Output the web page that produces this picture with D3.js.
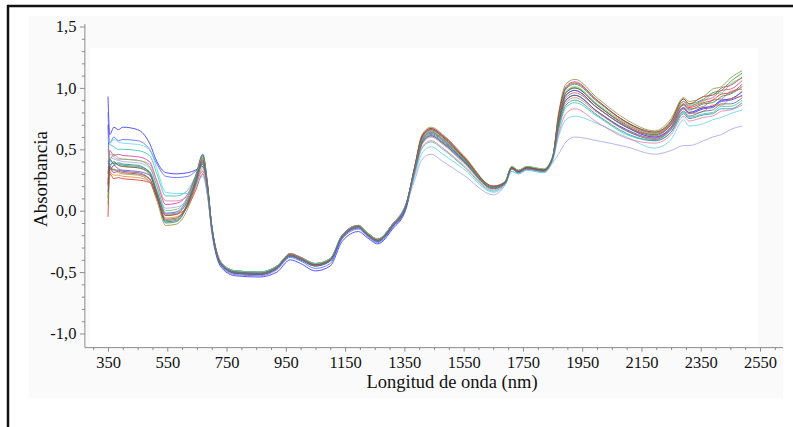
<!DOCTYPE html>
<html>
<head>
<meta charset="utf-8">
<script src="https://cdn.jsdelivr.net/npm/d3@7"></script>
<style>
  body { margin: 0; background: #fff; }
  svg { display: block; }
  text { font-family: "Liberation Serif", "Times New Roman", serif; fill: #111; }
</style>
</head>
<body>
<svg id="chart" width="793" height="427"></svg>
<script>
//============================================================
// Data (absorbance spectra, 350-2500 nm)
//============================================================

var wavelengths = [350, 356, 370, 385, 400, 450, 490, 515, 545, 580, 620, 645, 670, 685, 700,
                   715, 735, 780, 860, 920, 965, 1000, 1050, 1100, 1140, 1195, 1225, 1260, 1310, 1355,
                   1385, 1410, 1440, 1480, 1550, 1650,
                   1690, 1712, 1735, 1763, 1820, 1850,
                   1870, 1895, 1925, 2000, 2100, 2195,
                   2250, 2292, 2310, 2360, 2390, 2420, 2450, 2490];

var xTickLabels = [350, 550, 750, 950, 1150, 1350, 1550, 1750, 1950, 2150, 2350, 2550];
var yTickLabels = [-1.0, -0.5, 0.0, 0.5, 1.0, 1.5];

var sampleColors = ['#2b2bff', '#4f63ff', '#e32626', '#1e9e3c', '#2fbfae', '#d1349b',
                    '#7333c6', '#8e8e38', '#1e7e5e', '#e3853b', '#a3a3f3', '#5ed3eb',
                    '#e875a5', '#a9663e', '#55637d', '#5fbf5f', '#b63939', '#2a8fa9'];

var spectra = [
  [0.93, 0.62, 0.68, 0.66, 0.68, 0.66, 0.55, 0.40, 0.31, 0.30, 0.31, 0.33, 0.36, 0.17, -0.17,
   -0.36, -0.47, -0.53, -0.54, -0.50, -0.40, -0.43, -0.49, -0.45, -0.25, -0.17, -0.22, -0.27, -0.15, 0.01,
   0.32, 0.55, 0.61, 0.55, 0.40, 0.18,
   0.22, 0.34, 0.31, 0.34, 0.32, 0.42,
   0.70, 0.90, 0.94, 0.81, 0.66, 0.59,
   0.67, 0.83, 0.79, 0.83, 0.84, 0.89, 0.90, 0.94],
  [0.80, 0.55, 0.60, 0.57, 0.58, 0.57, 0.50, 0.38, 0.28, 0.27, 0.28, 0.32, 0.38, 0.19, -0.15,
   -0.35, -0.46, -0.52, -0.53, -0.48, -0.38, -0.41, -0.47, -0.43, -0.23, -0.15, -0.21, -0.26, -0.14, 0.02,
   0.34, 0.58, 0.64, 0.58, 0.42, 0.19,
   0.23, 0.35, 0.32, 0.35, 0.33, 0.43,
   0.72, 0.94, 0.98, 0.84, 0.68, 0.60,
   0.68, 0.84, 0.80, 0.84, 0.85, 0.90, 0.91, 0.97],
  [-0.05, 0.30, 0.26, 0.27, 0.26, 0.25, 0.23, 0.10, -0.04, -0.03, 0.04, 0.16, 0.30, 0.14, -0.14,
   -0.32, -0.43, -0.49, -0.50, -0.45, -0.35, -0.38, -0.43, -0.39, -0.20, -0.12, -0.18, -0.23, -0.11, 0.05,
   0.35, 0.60, 0.66, 0.60, 0.43, 0.19,
   0.23, 0.35, 0.32, 0.35, 0.33, 0.43,
   0.74, 0.96, 1.00, 0.86, 0.70, 0.62,
   0.71, 0.87, 0.84, 0.88, 0.90, 0.95, 0.96, 1.03],
  [0.10, 0.35, 0.40, 0.37, 0.36, 0.35, 0.30, 0.13, -0.08, -0.07, 0.07, 0.24, 0.44, 0.22, -0.12,
   -0.33, -0.44, -0.50, -0.51, -0.46, -0.36, -0.39, -0.44, -0.40, -0.21, -0.13, -0.19, -0.24, -0.12, 0.04,
   0.34, 0.58, 0.64, 0.58, 0.42, 0.19,
   0.23, 0.35, 0.32, 0.35, 0.33, 0.43,
   0.76, 0.99, 1.03, 0.89, 0.72, 0.64,
   0.73, 0.91, 0.87, 0.91, 0.96, 0.98, 1.05, 1.12],
  [0.55, 0.54, 0.52, 0.50, 0.50, 0.49, 0.45, 0.30, 0.12, 0.12, 0.17, 0.28, 0.40, 0.20, -0.12,
   -0.32, -0.43, -0.49, -0.50, -0.45, -0.35, -0.38, -0.43, -0.39, -0.20, -0.12, -0.18, -0.23, -0.11, 0.05,
   0.30, 0.51, 0.56, 0.50, 0.36, 0.16,
   0.22, 0.34, 0.31, 0.34, 0.32, 0.42,
   0.65, 0.84, 0.88, 0.77, 0.62, 0.57,
   0.64, 0.80, 0.76, 0.79, 0.80, 0.85, 0.85, 0.90],
  [0.20, 0.49, 0.45, 0.46, 0.45, 0.44, 0.40, 0.24, 0.05, 0.06, 0.14, 0.27, 0.42, 0.21, -0.13,
   -0.33, -0.44, -0.50, -0.51, -0.46, -0.36, -0.39, -0.44, -0.40, -0.21, -0.13, -0.19, -0.24, -0.12, 0.04,
   0.36, 0.61, 0.67, 0.61, 0.44, 0.20,
   0.23, 0.35, 0.32, 0.35, 0.33, 0.43,
   0.77, 1.01, 1.05, 0.90, 0.72, 0.63,
   0.72, 0.89, 0.85, 0.90, 0.92, 0.98, 0.99, 1.06],
  [0.70, 0.33, 0.37, 0.34, 0.33, 0.32, 0.29, 0.15, -0.02, -0.01, 0.11, 0.28, 0.46, 0.24, -0.13,
   -0.34, -0.45, -0.51, -0.52, -0.47, -0.37, -0.40, -0.45, -0.41, -0.22, -0.14, -0.20, -0.25, -0.13, 0.03,
   0.33, 0.57, 0.63, 0.57, 0.41, 0.19,
   0.23, 0.35, 0.32, 0.35, 0.33, 0.43,
   0.72, 0.94, 0.98, 0.84, 0.68, 0.60,
   0.68, 0.84, 0.80, 0.84, 0.85, 0.90, 0.91, 0.97],
  [0.05, 0.30, 0.34, 0.31, 0.30, 0.29, 0.24, 0.08, -0.12, -0.11, 0.02, 0.19, 0.38, 0.19, -0.13,
   -0.33, -0.44, -0.50, -0.51, -0.46, -0.36, -0.39, -0.44, -0.40, -0.21, -0.13, -0.19, -0.24, -0.12, 0.04,
   0.36, 0.62, 0.68, 0.62, 0.45, 0.20,
   0.24, 0.36, 0.33, 0.36, 0.34, 0.44,
   0.79, 1.03, 1.07, 0.92, 0.74, 0.65,
   0.75, 0.92, 0.89, 0.93, 0.99, 1.01, 1.08, 1.14],
  [0.30, 0.42, 0.38, 0.39, 0.38, 0.37, 0.31, 0.13, -0.10, -0.09, 0.06, 0.25, 0.45, 0.23, -0.12,
   -0.33, -0.44, -0.50, -0.51, -0.46, -0.36, -0.39, -0.44, -0.40, -0.21, -0.13, -0.19, -0.24, -0.12, 0.04,
   0.35, 0.60, 0.66, 0.60, 0.43, 0.19,
   0.23, 0.35, 0.32, 0.35, 0.33, 0.43,
   0.74, 0.96, 1.00, 0.86, 0.69, 0.61,
   0.70, 0.86, 0.82, 0.87, 0.88, 0.93, 0.95, 1.01],
  [0.25, 0.31, 0.29, 0.29, 0.28, 0.27, 0.24, 0.10, -0.06, -0.05, 0.04, 0.19, 0.35, 0.17, -0.13,
   -0.32, -0.43, -0.49, -0.50, -0.45, -0.35, -0.38, -0.43, -0.39, -0.20, -0.12, -0.18, -0.23, -0.11, 0.05,
   0.32, 0.54, 0.60, 0.54, 0.39, 0.18,
   0.22, 0.34, 0.31, 0.34, 0.32, 0.42,
   0.68, 0.88, 0.92, 0.80, 0.65, 0.59,
   0.67, 0.83, 0.79, 0.81, 0.86, 0.86, 0.91, 0.93],
  [0.45, 0.44, 0.42, 0.41, 0.40, 0.39, 0.35, 0.20, 0.02, 0.03, 0.08, 0.20, 0.33, 0.16, -0.13,
   -0.32, -0.43, -0.49, -0.50, -0.45, -0.35, -0.38, -0.43, -0.39, -0.20, -0.12, -0.18, -0.23, -0.11, 0.05,
   0.25, 0.42, 0.46, 0.40, 0.29, 0.13,
   0.21, 0.32, 0.30, 0.33, 0.31, 0.39,
   0.46, 0.56, 0.60, 0.57, 0.52, 0.46,
   0.49, 0.53, 0.53, 0.57, 0.60, 0.62, 0.66, 0.69],
  [0.60, 0.55, 0.58, 0.56, 0.55, 0.54, 0.50, 0.34, 0.15, 0.14, 0.14, 0.20, 0.28, 0.13, -0.14,
   -0.32, -0.43, -0.49, -0.50, -0.45, -0.35, -0.38, -0.43, -0.39, -0.20, -0.12, -0.18, -0.23, -0.11, 0.05,
   0.28, 0.47, 0.52, 0.46, 0.34, 0.15,
   0.21, 0.32, 0.30, 0.33, 0.31, 0.40,
   0.60, 0.74, 0.77, 0.71, 0.60, 0.51,
   0.58, 0.74, 0.69, 0.71, 0.74, 0.76, 0.79, 0.82],
  [0.40, 0.46, 0.44, 0.42, 0.42, 0.41, 0.38, 0.24, 0.08, 0.08, 0.12, 0.21, 0.32, 0.15, -0.15,
   -0.33, -0.44, -0.50, -0.51, -0.46, -0.36, -0.39, -0.44, -0.40, -0.21, -0.13, -0.19, -0.24, -0.12, 0.04,
   0.31, 0.52, 0.57, 0.51, 0.37, 0.17,
   0.22, 0.34, 0.31, 0.34, 0.32, 0.42,
   0.62, 0.79, 0.83, 0.72, 0.59, 0.55,
   0.62, 0.77, 0.73, 0.76, 0.77, 0.81, 0.82, 0.86],
  [0.35, 0.37, 0.39, 0.37, 0.36, 0.35, 0.31, 0.15, -0.04, -0.03, 0.09, 0.25, 0.43, 0.22, -0.12,
   -0.32, -0.44, -0.51, -0.52, -0.47, -0.35, -0.38, -0.44, -0.40, -0.20, -0.12, -0.19, -0.24, -0.11, 0.05,
   0.34, 0.59, 0.65, 0.59, 0.43, 0.19,
   0.23, 0.35, 0.32, 0.35, 0.33, 0.43,
   0.71, 0.92, 0.96, 0.84, 0.68, 0.62,
   0.70, 0.87, 0.83, 0.85, 0.90, 0.91, 0.97, 0.99],
  [0.15, 0.36, 0.33, 0.33, 0.32, 0.31, 0.26, 0.11, -0.09, -0.08, 0.05, 0.21, 0.40, 0.20, -0.14,
   -0.34, -0.45, -0.51, -0.52, -0.47, -0.37, -0.40, -0.45, -0.41, -0.22, -0.14, -0.20, -0.25, -0.13, 0.03,
   0.33, 0.56, 0.62, 0.56, 0.41, 0.19,
   0.23, 0.35, 0.32, 0.35, 0.33, 0.43,
   0.70, 0.90, 0.94, 0.81, 0.65, 0.58,
   0.66, 0.81, 0.77, 0.81, 0.82, 0.87, 0.87, 0.92],
  [0.50, 0.42, 0.46, 0.43, 0.42, 0.41, 0.36, 0.20, 0.00, 0.01, 0.12, 0.27, 0.44, 0.22, -0.12,
   -0.33, -0.44, -0.49, -0.50, -0.45, -0.36, -0.39, -0.43, -0.39, -0.21, -0.13, -0.18, -0.23, -0.12, 0.04,
   0.34, 0.58, 0.64, 0.58, 0.42, 0.19,
   0.24, 0.36, 0.33, 0.36, 0.34, 0.44,
   0.75, 0.97, 1.01, 0.87, 0.71, 0.63,
   0.72, 0.89, 0.86, 0.89, 0.95, 0.96, 1.03, 1.08],
  [0.22, 0.35, 0.31, 0.32, 0.31, 0.30, 0.26, 0.11, -0.07, -0.06, 0.06, 0.23, 0.41, 0.21, -0.13,
   -0.33, -0.44, -0.50, -0.51, -0.46, -0.36, -0.39, -0.44, -0.40, -0.21, -0.13, -0.19, -0.24, -0.12, 0.04,
   0.36, 0.61, 0.67, 0.61, 0.44, 0.20,
   0.23, 0.35, 0.32, 0.35, 0.33, 0.43,
   0.77, 1.00, 1.04, 0.90, 0.72, 0.64,
   0.73, 0.91, 0.87, 0.93, 0.94, 1.00, 1.02, 1.09],
  [0.38, 0.41, 0.38, 0.38, 0.37, 0.36, 0.32, 0.16, -0.03, -0.02, 0.08, 0.22, 0.39, 0.19, -0.13,
   -0.34, -0.45, -0.50, -0.51, -0.46, -0.37, -0.40, -0.45, -0.41, -0.21, -0.13, -0.20, -0.25, -0.12, 0.04,
   0.33, 0.55, 0.61, 0.55, 0.40, 0.18,
   0.22, 0.34, 0.31, 0.34, 0.32, 0.42,
   0.67, 0.86, 0.90, 0.78, 0.63, 0.57,
   0.64, 0.79, 0.75, 0.78, 0.79, 0.83, 0.83, 0.88]
];

//============================================================
// Layout
//============================================================

var svg = d3.select('#chart');

var x = d3.scaleLinear().domain([350, 2550]).range([108, 760]),
    y = d3.scaleLinear().domain([-1, 1.5]).range([333.5, 26.5]);

var xAxisStart = 272, xAxisEnd = 2628,   // axis lines run a bit past the ticks
    yAxisLow   = -1.115, yAxisHigh = 1.52,
    axisColour = '#8c8c8c',
    serif      = '"Liberation Serif", "Times New Roman", serif',
    decimalComma = function(v){ return v.toFixed(1).replace('.', ','); };

// very pale panel behind the plot, white plotting area
svg.append('rect')
	.attr('x', 29).attr('y', 16)
	.attr('width', 754).attr('height', 382)
	.attr('fill', '#fafafa');

svg.append('rect')
	.attr('x', 90).attr('y', 48)
	.attr('width', 668).attr('height', y(yAxisLow) - 48)
	.attr('fill', '#ffffff');

// black frame (left and top only, the rest is cropped off)
svg.append('line')
	.attr('x1', 8).attr('y1', 5).attr('x2', 8).attr('y2', 427)
	.attr('stroke', '#111').attr('stroke-width', 2.5);
svg.append('line')
	.attr('x1', 7).attr('y1', 6).attr('x2', 793).attr('y2', 6)
	.attr('stroke', '#111').attr('stroke-width', 2.5);

// SPECTRA
var line = d3.line()
	.x(function(d, i){ return x(wavelengths[i]); })
	.y(function(d){ return y(d); })
	.curve(d3.curveMonotoneX);

svg.append('g')
	.attr('class', 'spectra')
	.selectAll('path')
	.data(spectra)
	.enter()
	.append('path')
	.attr('d', line)
	.attr('fill', 'none')
	.attr('stroke', function(d, i){ return sampleColors[i]; })
	.attr('stroke-width', 1)
	.attr('stroke-opacity', 0.8);

// AXES
var xMinor = d3.range(300, 2601, 50).filter(function(v){ return (v - 350) % 200 !== 0; }),
    yMinor = d3.range(-9, 15).map(function(v){ return v / 10; })
	    .filter(function(v){ return Math.round(v * 10) % 5 !== 0; });

var xAxisG = svg.append('g').attr('transform', 'translate(0,' + y(yAxisLow) + ')');

xAxisG.append('g')
	.call(d3.axisBottom(x).tickValues(xMinor).tickSize(2.5).tickFormat(''));
xAxisG.append('g')
	.call(d3.axisBottom(x).tickValues(xTickLabels).tickSize(4).tickPadding(5).tickFormat(d3.format('d')));

var yAxisG = svg.append('g').attr('transform', 'translate(' + x(xAxisStart) + ',0)');

yAxisG.append('g')
	.call(d3.axisLeft(y).tickValues(yMinor).tickSize(3).tickFormat(''));
yAxisG.append('g')
	.call(d3.axisLeft(y).tickValues(yTickLabels).tickSize(5).tickPadding(3.5).tickFormat(decimalComma));

svg.selectAll('.domain').remove();
svg.selectAll('.tick line').attr('stroke', axisColour);
svg.selectAll('.tick text')
	.style('font-family', serif)
	.attr('font-size', 16.5)
	.attr('fill', '#111');

// axis lines drawn by hand so they can overshoot the tick range
svg.append('line')
	.attr('x1', x(xAxisStart)).attr('x2', x(xAxisEnd))
	.attr('y1', y(yAxisLow)).attr('y2', y(yAxisLow))
	.attr('stroke', axisColour);
svg.append('line')
	.attr('x1', x(xAxisStart)).attr('x2', x(xAxisStart))
	.attr('y1', y(yAxisLow)).attr('y2', y(yAxisHigh))
	.attr('stroke', axisColour);

// TITLES
svg.append('text')
	.attr('x', 452).attr('y', 388)
	.attr('text-anchor', 'middle')
	.attr('font-size', 18.5)
	.text('Longitud de onda (nm)');

svg.append('text')
	.attr('transform', 'translate(47,179) rotate(-90)')
	.attr('text-anchor', 'middle')
	.attr('font-size', 19)
	.text('Absorbancia');
</script>
</body>
</html>
